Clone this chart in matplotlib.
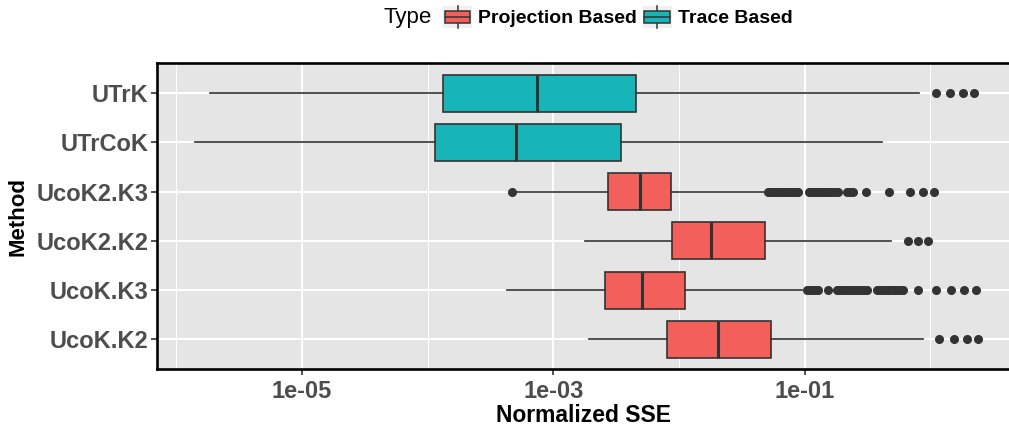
import matplotlib
matplotlib.use("Agg")
import matplotlib.pyplot as plt
import numpy as np
from matplotlib.legend_handler import HandlerBase
from matplotlib.patches import Rectangle
from matplotlib.lines import Line2D
from matplotlib.ticker import FixedLocator, NullFormatter

plt.rcParams['font.family'] = ['Liberation Sans', 'DejaVu Sans']

# methods, bottom to top
methods = ['UcoK.K2', 'UcoK.K3', 'UcoK2.K2', 'UcoK2.K3', 'UTrCoK', 'UTrK']
types = ['Projection Based', 'Projection Based', 'Projection Based',
         'Projection Based', 'Trace Based', 'Trace Based']

# box statistics, as log10 of the normalized SSE
whislo = [-2.715, -3.368, -2.747, -3.31, -5.849, -5.733]
q1 = [-2.094, -2.588, -2.057, -2.568, -3.941, -3.877]
med = [-1.688, -2.290, -1.746, -2.311, -3.293, -3.126]
q3 = [-1.271, -1.948, -1.311, -2.064, -2.465, -2.343]
whishi = [-0.056, -1.02, -0.315, -1.325, -0.382, -0.087]

fliers_ucok_k2 = [0.072, 0.189, 0.290, 0.377]
fliers_ucok_k3 = [-0.98, -0.96, -0.94, -0.92, -0.90, -0.89, -0.81,
                  -0.745, -0.725, -0.705, -0.685, -0.665, -0.645, -0.625, -0.605,
                  -0.585, -0.565, -0.545, -0.525, -0.50,
                  -0.42, -0.40, -0.38, -0.36, -0.34, -0.32, -0.30, -0.28, -0.26,
                  -0.24, -0.215, -0.096, 0.043, 0.162, 0.268, 0.361]
fliers_ucok2_k2 = [-0.178, -0.096, -0.016]
fliers_ucok2_k3 = [-3.33,
                   -1.29, -1.27, -1.25, -1.23, -1.21, -1.19, -1.17, -1.15, -1.13,
                   -1.11, -1.09, -1.07, -1.05,
                   -0.966, -0.945, -0.925, -0.905, -0.885, -0.865, -0.845, -0.825,
                   -0.80, -0.78, -0.76, -0.737,
                   -0.663, -0.64, -0.618, -0.514, -0.326, -0.161, -0.060, 0.030]
fliers_utrcok = []
fliers_utrk = [0.045, 0.159, 0.263, 0.345]
fliers = [fliers_ucok_k2, fliers_ucok_k3, fliers_ucok2_k2, fliers_ucok2_k3,
          fliers_utrcok, fliers_utrk]

xticks = [1e-05, 1e-03, 1e-01]
xtick_labels = ['1e-05', '1e-03', '1e-01']
xminor = [1e-06, 1e-04, 1e-02, 1e+00]

colors = {'Projection Based': '#F35F5B', 'Trace Based': '#17B4B8'}
edge = '#333333'

stats = []
for i in range(len(methods)):
    stats.append(dict(whislo=10 ** whislo[i], q1=10 ** q1[i], med=10 ** med[i],
                      q3=10 ** q3[i], whishi=10 ** whishi[i],
                      fliers=10 ** np.array(fliers[i], dtype=float)))

fig = plt.figure(figsize=(10.09, 4.26), dpi=100)
ax = fig.add_axes([0.1556, 0.134, 0.8444, 0.717])
ax.set_facecolor('#E5E5E5')
ax.set_axisbelow(True)

bp = ax.bxp(stats, positions=range(1, len(methods) + 1), widths=0.75,
            orientation='horizontal', patch_artist=True, showcaps=False,
            boxprops=dict(edgecolor=edge, linewidth=1.2),
            medianprops=dict(color=edge, linewidth=2.2),
            whiskerprops=dict(color=edge, linewidth=1.2),
            flierprops=dict(marker='o', markerfacecolor=edge, markeredgecolor=edge,
                            markersize=5.5, linestyle='none'))
for patch, t in zip(bp['boxes'], types):
    patch.set_facecolor(colors[t])

ax.set_xscale('log')
ax.set_xlim(10 ** -6.154, 10 ** 0.627)
ax.set_ylim(0.4, len(methods) + 0.6)
ax.xaxis.set_major_locator(FixedLocator(xticks))
ax.set_xticklabels(xtick_labels)
ax.xaxis.set_minor_locator(FixedLocator(xminor))
ax.xaxis.set_minor_formatter(NullFormatter())
ax.set_yticks(range(1, len(methods) + 1))
ax.set_yticklabels(methods)

ax.grid(which='major', color='white', linewidth=1.4)
ax.grid(which='minor', axis='x', color='white', linewidth=0.7)
ax.tick_params(which='major', length=4, width=1.2, color=edge, pad=2,
               labelsize=17, labelcolor='#4D4D4D')
ax.tick_params(axis='x', which='major', pad=4)
ax.tick_params(which='minor', length=0)
for lab in ax.get_xticklabels() + ax.get_yticklabels():
    lab.set_fontweight('bold')

for s in ['left', 'bottom', 'top']:
    ax.spines[s].set_linewidth(1.9)
    ax.spines[s].set_color('black')
ax.spines['right'].set_visible(False)

ax.set_xlabel('Normalized SSE', fontsize=16.5, fontweight='bold', labelpad=1)
ax.set_ylabel('Method', fontsize=16, fontweight='bold', labelpad=6)


class BoxKey(HandlerBase):
    def create_artists(self, legend, orig_handle, xdescent, ydescent, width,
                       height, fontsize, trans):
        x0, y0 = -xdescent, -ydescent
        bg = Rectangle((x0, y0), width, height, facecolor='#F0F0F0',
                       edgecolor='none', transform=trans)
        cx = x0 + width / 2
        wl = Line2D([cx, cx], [y0, y0 + height], color=edge, lw=1.1,
                    transform=trans)
        box = Rectangle((x0 + width * 0.06, y0 + height * 0.24), width * 0.88,
                        height * 0.54, facecolor=orig_handle.get_facecolor(),
                        edgecolor=edge, lw=1.1, transform=trans)
        cy = y0 + height * 0.51
        ml = Line2D([x0 + width * 0.06, x0 + width * 0.94], [cy, cy], color=edge,
                    lw=1.1, transform=trans)
        return [bg, wl, box, ml]


handles = [Rectangle((0, 0), 1, 1, facecolor=colors[k]) for k in colors]
leg = fig.legend(handles, list(colors), loc='center left',
                 bbox_to_anchor=(443 / 1009, 1 - 17 / 426), ncol=2, frameon=False,
                 borderpad=0, borderaxespad=0, handlelength=1.5, handleheight=1.4,
                 handletextpad=0.3, columnspacing=0.3, fontsize=14,
                 handler_map={Rectangle: BoxKey()})
for t in leg.get_texts():
    t.set_fontweight('bold')
fig.text(383 / 1009, 1 - 17 / 426, 'Type', fontsize=16, ha='left', va='center')

fig.savefig('out.png', dpi=100)
